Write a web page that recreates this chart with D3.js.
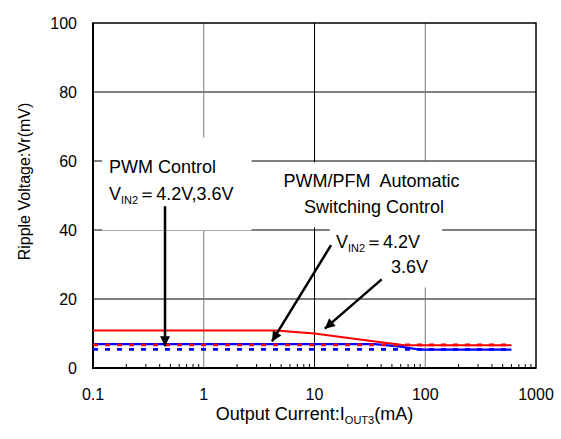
<!DOCTYPE html>
<html>
<head>
<meta charset="utf-8">
<script src="https://cdn.jsdelivr.net/npm/d3@7"></script>
<style>
body { margin: 0; background: #fff; }
text { font-family: Arial, "Liberation Sans", sans-serif; fill: #000; }
</style>
</head>
<body>
<div id="drawing_region"></div>
<script>
// axis ticks
const xTicks = [0.1, 1, 10, 100, 1000];
const xTickLabels = ['0.1', '1', '10', '100', '1000'];
const yTicks = [0, 20, 40, 60, 80, 100];

// series (output current in mA, ripple in mV)
const red42X = [0.1, 4.5, 10, 30, 65, 600];
const red42Y = [10.9, 10.9, 10.0, 8.0, 6.6, 6.6];
const blue36X = [0.1, 35, 60, 90, 600];
const blue36Y = [6.9, 6.9, 6.2, 5.3, 5.3];
const redPwmX = [0.1, 600];
const redPwmY = [6.7, 6.7];
const bluePwmX = [0.1, 600];
const bluePwmY = [5.4, 5.4];

// annotation arrows: [x1, y1, x2, y2] in data units, arrow head at (x2, y2)
const arrows = [
    [0.447, 46.9, 0.447, 6.3],
    [14.1, 35.6, 4.13, 7.7],
    [40.4, 25.7, 12.4, 11.4]
];

var config = {
    parent: '#drawing_region',
    width: 561,
    height: 439
};

class RippleChart {

    constructor( config ) {
        this.config = {
            parent: config.parent,
            width: config.width,
            height: config.height,
            margin: {top: 23, right: 25, bottom: 71, left: 93}
        };
        this.series = [
            {x: red42X, y: red42Y, color: '#ff0000', dash: null, w: 2},
            {x: blue36X, y: blue36Y, color: '#0000ff', dash: null, w: 2.2},
            {x: redPwmX, y: redPwmY, color: '#ff0000', dash: '5,7', w: 2.6},
            {x: bluePwmX, y: bluePwmY, color: '#0000ff', dash: '5,7', w: 2.6}
        ];
        this.init();
    }

    init() {
        let self = this;
        const m = self.config.margin;

        self.svg = d3.select( self.config.parent )
            .append('svg')
            .attr('width', self.config.width)
            .attr('height', self.config.height);

        self.chart = self.svg.append('g')
            .attr('transform', `translate(${m.left}, ${m.top})`);

        self.inner_width = self.config.width - m.left - m.right;
        self.inner_height = self.config.height - m.top - m.bottom;

        self.xscale = d3.scaleLog().domain([0.1, 1000]).range([0, self.inner_width]);
        self.yscale = d3.scaleLinear().domain([0, 100]).range([self.inner_height, 0]);

        self.line = d3.line()
            .x( d => self.xscale(d[0]) )
            .y( d => self.yscale(d[1]) );
    }

    render() {
        let self = this;
        const W = self.inner_width, H = self.inner_height;

        // grid
        self.chart.selectAll('.hgrid').data(yTicks.slice(1, -1)).join('line')
            .attr('x1', 0).attr('x2', W)
            .attr('y1', d => self.yscale(d)).attr('y2', d => self.yscale(d))
            .attr('stroke', '#000').attr('stroke-width', 1);
        self.chart.selectAll('.vgrid').data(xTicks.slice(1, -1)).join('line')
            .attr('x1', d => self.xscale(d)).attr('x2', d => self.xscale(d))
            .attr('y1', 0).attr('y2', H)
            .attr('stroke', d => d === 10 ? '#000' : '#777').attr('stroke-width', 1);

        // minor ticks on bottom axis
        const minor = [];
        for (let dec = 0.1; dec < 1000; dec *= 10)
            for (let k = 2; k <= 9; k++) minor.push(dec * k);
        self.chart.append('g').selectAll('line').data(minor).join('line')
            .attr('x1', d => self.xscale(d)).attr('x2', d => self.xscale(d))
            .attr('y1', H).attr('y2', H - 4)
            .attr('stroke', '#000').attr('stroke-width', 1);

        // frame
        self.chart.append('rect')
            .attr('width', W).attr('height', H)
            .attr('fill', 'none').attr('stroke', '#000').attr('stroke-width', 1.5);
        self.chart.append('path')
            .attr('d', `M0,0V${H}H${W}`)
            .attr('fill', 'none').attr('stroke', '#000').attr('stroke-width', 2);

        // tick labels
        self.chart.selectAll('.xt').data(xTicks).join('text')
            .attr('x', d => self.xscale(d)).attr('y', H + 32)
            .attr('text-anchor', 'middle').attr('font-size', 16)
            .text( (d, i) => xTickLabels[i] );
        self.chart.selectAll('.yt').data(yTicks).join('text')
            .attr('x', -16).attr('y', d => self.yscale(d)).attr('dy', '0.35em')
            .attr('text-anchor', 'end').attr('font-size', 16)
            .text( d => d );

        // axis titles
        const xt = self.chart.append('text')
            .attr('x', W / 2).attr('y', H + 52)
            .attr('text-anchor', 'middle').attr('font-size', 18);
        xt.append('tspan').text('Output Current:I');
        xt.append('tspan').attr('font-size', 11).attr('dy', 4).text('OUT3');
        xt.append('tspan').attr('dy', -4).text('(mA)');

        self.chart.append('text')
            .attr('transform', `translate(${-63}, ${H / 2 - 14}) rotate(-90)`)
            .attr('text-anchor', 'middle').attr('font-size', 16)
            .text('Ripple Voltage:Vr(mV)');

        // label boxes (drawn first, filled in after text placement)
        const boxLayer = self.chart.append('g');

        // series
        self.series.forEach( s => {
            self.chart.append('path')
                .attr('d', self.line( d3.zip(s.x, s.y) ))
                .attr('fill', 'none')
                .attr('stroke', s.color)
                .attr('stroke-width', s.w)
                .attr('stroke-dasharray', s.dash);
        });

        // labels
        const labels = self.chart.append('g');
        const addText = (g, x, y, anchor, parts) => {
            const t = g.append('text')
                .attr('x', self.xscale(x)).attr('y', self.yscale(y))
                .attr('text-anchor', anchor).attr('font-size', 18)
                .style('white-space', 'pre');
            parts.forEach( p => {
                const ts = t.append('tspan').text(p[0]);
                if (p[1] === 'sub') ts.attr('font-size', 11).attr('dy', 4);
                if (p[1] === 'up') ts.attr('dy', -4);
            });
            return t;
        };

        const g1 = labels.append('g');
        addText(g1, 0.1395, 56.4, 'start', [['PWM Control']]);
        addText(g1, 0.1395, 48.6, 'start', [['V'], ['IN2', 'sub'], ['\uFF1D4.2V,3.6V', 'up']]);

        const g2 = labels.append('g');
        addText(g2, 32.7, 52.4, 'middle', [['PWM/PFM  Automatic']]);
        addText(g2, 34.5, 44.8, 'middle', [['Switching Control']]);

        const g3 = labels.append('g');
        addText(g3, 15.6, 34.7, 'start', [['V'], ['IN2', 'sub'], ['\uFF1D4.2V', 'up']]);
        addText(g3, 49.1, 27.4, 'start', [['3.6V']]);

        const pads = [[7, 18, 20, 24], [10, 10, 9, 10], [6, 14, 8, 10]];
        [g1, g2, g3].forEach( (g, i) => {
            const b = g.node().getBBox();
            const p = pads[i];
            boxLayer.append('rect')
                .attr('x', b.x - p[0]).attr('y', b.y - p[2])
                .attr('width', b.width + p[0] + p[1])
                .attr('height', b.height + p[2] + p[3])
                .attr('fill', '#fff');
        });

        // arrows
        self.svg.append('defs').append('marker')
            .attr('id', 'head')
            .attr('markerUnits', 'userSpaceOnUse')
            .attr('viewBox', '0 0 10 10')
            .attr('refX', 10).attr('refY', 5)
            .attr('markerWidth', 12).attr('markerHeight', 10)
            .attr('orient', 'auto')
            .append('path').attr('d', 'M0,0L10,5L0,10z').attr('fill', '#000');

        self.chart.append('g').selectAll('line').data(arrows).join('line')
            .attr('x1', d => self.xscale(d[0])).attr('y1', d => self.yscale(d[1]))
            .attr('x2', d => self.xscale(d[2])).attr('y2', d => self.yscale(d[3]))
            .attr('stroke', '#000').attr('stroke-width', 2.5)
            .attr('marker-end', 'url(#head)');
    }
}

const chart = new RippleChart( config );
chart.render();
</script>
</body>
</html>
